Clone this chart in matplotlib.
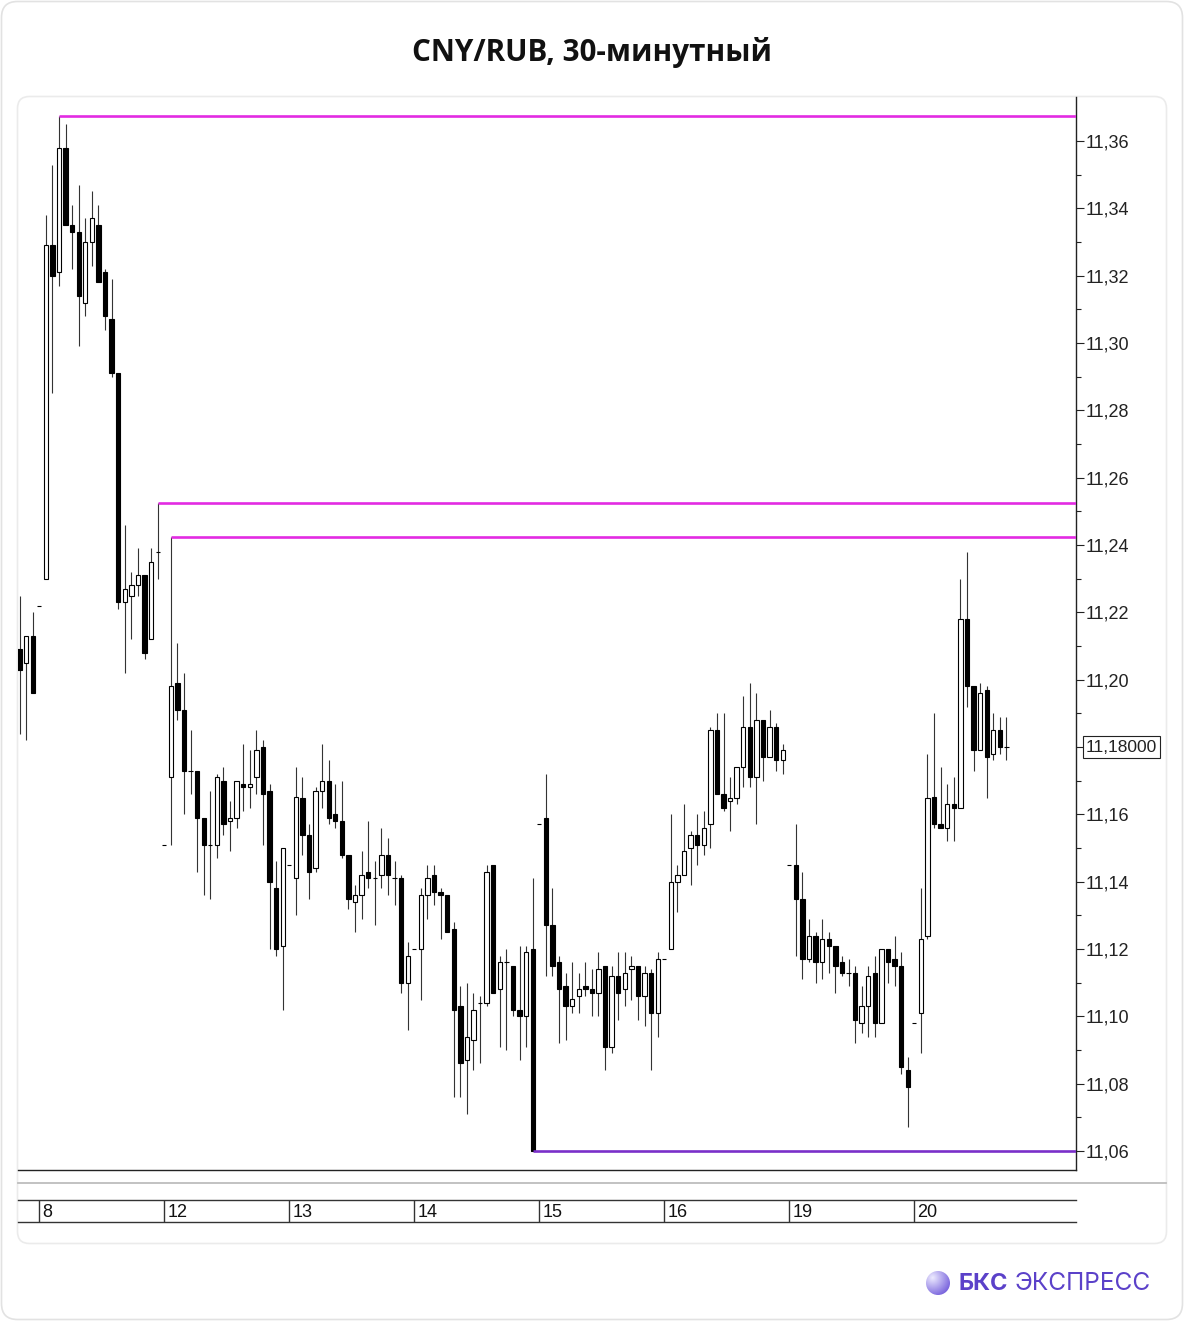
import numpy as np
import matplotlib.pyplot as plt
import matplotlib.transforms as mtransforms
from matplotlib.patches import FancyBboxPatch, Circle

plt.rcParams['font.family'] = ['Liberation Sans', 'DejaVu Sans']

# 30-min candles (bar index 0 = first visible bar)
opens = [11.209, 11.205, 11.213, 11.222, 11.230, 11.329, 11.321, 11.358, 11.335, 11.333,
         11.312, 11.330, 11.335, 11.321, 11.307, 11.291, 11.223, 11.225, 11.228, 11.231,
         11.212, 11.238, 11.151, 11.171, 11.199, 11.191, 11.173, 11.173, 11.159, 11.151,
         11.151, 11.170, 11.158, 11.159, 11.169, 11.168, 11.171, 11.180, 11.167, 11.138,
         11.121, 11.145, 11.141, 11.165, 11.154, 11.144, 11.167, 11.170, 11.160, 11.158,
         11.148, 11.134, 11.136, 11.143, 11.141, 11.142, 11.148, 11.141, 11.141, 11.110,
         11.120, 11.120, 11.136, 11.142, 11.137, 11.136, 11.126, 11.103, 11.087, 11.093,
         11.104, 11.104, 11.145, 11.108, 11.116, 11.115, 11.102, 11.100, 11.120, 11.157,
         11.159, 11.127, 11.116, 11.109, 11.103, 11.106, 11.109, 11.108, 11.107, 11.115,
         11.091, 11.112, 11.108, 11.114, 11.115, 11.106, 11.113, 11.101, 11.117, 11.120,
         11.140, 11.142, 11.150, 11.154, 11.151, 11.157, 11.185, 11.166, 11.164, 11.165,
         11.174, 11.186, 11.171, 11.188, 11.177, 11.186, 11.176, 11.145, 11.145, 11.135,
         11.117, 11.124, 11.116, 11.123, 11.121, 11.116, 11.113, 11.113, 11.098, 11.103,
         11.113, 11.098, 11.120, 11.117, 11.115, 11.084, 11.098, 11.101, 11.124, 11.165,
         11.157, 11.156, 11.163, 11.162, 11.218, 11.198, 11.179, 11.197, 11.178, 11.185,
         11.180]
highs = [11.225, 11.213, 11.220, 11.222, 11.338, 11.353, 11.3675, 11.365, 11.341, 11.347,
         11.337, 11.345, 11.341, 11.322, 11.319, 11.291, 11.246, 11.232, 11.239, 11.231,
         11.239, 11.2525, 11.151, 11.2425, 11.211, 11.202, 11.185, 11.173, 11.159, 11.167,
         11.172, 11.174, 11.164, 11.170, 11.181, 11.179, 11.185, 11.182, 11.169, 11.146,
         11.150, 11.145, 11.174, 11.171, 11.157, 11.168, 11.181, 11.176, 11.169, 11.170,
         11.148, 11.139, 11.149, 11.158, 11.146, 11.156, 11.153, 11.146, 11.142, 11.122,
         11.120, 11.138, 11.145, 11.145, 11.138, 11.136, 11.128, 11.109, 11.110, 11.107,
         11.106, 11.145, 11.145, 11.118, 11.120, 11.115, 11.121, 11.121, 11.141, 11.157,
         11.172, 11.138, 11.118, 11.113, 11.116, 11.113, 11.116, 11.114, 11.119, 11.115,
         11.115, 11.119, 11.119, 11.118, 11.115, 11.115, 11.114, 11.119, 11.117, 11.160,
         11.145, 11.163, 11.155, 11.160, 11.161, 11.186, 11.190, 11.190, 11.171, 11.174,
         11.195, 11.199, 11.196, 11.188, 11.191, 11.187, 11.181, 11.145, 11.157, 11.143,
         11.129, 11.125, 11.129, 11.125, 11.121, 11.118, 11.117, 11.115, 11.109, 11.115,
         11.118, 11.120, 11.120, 11.124, 11.119, 11.088, 11.098, 11.138, 11.178, 11.190,
         11.174, 11.169, 11.171, 11.230, 11.238, 11.198, 11.199, 11.198, 11.190, 11.189,
         11.189]
lows = [11.184, 11.182, 11.196, 11.222, 11.230, 11.285, 11.317, 11.335, 11.322, 11.299,
        11.308, 11.323, 11.318, 11.304, 11.290, 11.221, 11.202, 11.212, 11.225, 11.206,
        11.212, 11.230, 11.151, 11.151, 11.188, 11.160, 11.166, 11.143, 11.136, 11.135,
        11.147, 11.154, 11.149, 11.156, 11.161, 11.162, 11.166, 11.151, 11.120, 11.118,
        11.102, 11.145, 11.130, 11.148, 11.135, 11.143, 11.162, 11.157, 11.156, 11.147,
        11.132, 11.125, 11.129, 11.138, 11.127, 11.138, 11.136, 11.133, 11.107, 11.096,
        11.120, 11.105, 11.129, 11.133, 11.123, 11.125, 11.076, 11.076, 11.071, 11.084,
        11.086, 11.103, 11.107, 11.091, 11.090, 11.100, 11.087, 11.091, 11.060, 11.157,
        11.112, 11.112, 11.092, 11.093, 11.101, 11.101, 11.106, 11.100, 11.100, 11.084,
        11.089, 11.099, 11.103, 11.105, 11.099, 11.097, 11.084, 11.094, 11.117, 11.120,
        11.131, 11.142, 11.139, 11.145, 11.148, 11.150, 11.166, 11.161, 11.155, 11.163,
        11.168, 11.168, 11.157, 11.170, 11.177, 11.173, 11.172, 11.145, 11.118, 11.111,
        11.116, 11.110, 11.111, 11.113, 11.107, 11.112, 11.109, 11.092, 11.095, 11.094,
        11.094, 11.098, 11.110, 11.109, 11.083, 11.067, 11.098, 11.089, 11.123, 11.156,
        11.156, 11.152, 11.152, 11.162, 11.192, 11.173, 11.179, 11.165, 11.176, 11.178,
        11.176]
closes = [11.203, 11.213, 11.196, 11.222, 11.329, 11.320, 11.358, 11.335, 11.333, 11.314,
          11.330, 11.337, 11.318, 11.308, 11.291, 11.223, 11.227, 11.228, 11.231, 11.208,
          11.235, 11.238, 11.151, 11.198, 11.191, 11.173, 11.173, 11.159, 11.151, 11.151,
          11.171, 11.157, 11.159, 11.170, 11.168, 11.169, 11.179, 11.166, 11.140, 11.120,
          11.150, 11.145, 11.165, 11.154, 11.143, 11.167, 11.170, 11.159, 11.158, 11.148,
          11.135, 11.136, 11.142, 11.141, 11.141, 11.148, 11.142, 11.141, 11.110, 11.118,
          11.120, 11.136, 11.141, 11.137, 11.136, 11.125, 11.102, 11.086, 11.094, 11.102,
          11.104, 11.143, 11.107, 11.116, 11.116, 11.102, 11.100, 11.119, 11.060, 11.157,
          11.127, 11.115, 11.108, 11.103, 11.105, 11.108, 11.108, 11.107, 11.114, 11.091,
          11.112, 11.107, 11.113, 11.115, 11.106, 11.113, 11.101, 11.117, 11.117, 11.140,
          11.142, 11.149, 11.154, 11.151, 11.156, 11.185, 11.166, 11.162, 11.165, 11.174,
          11.186, 11.171, 11.188, 11.177, 11.186, 11.176, 11.179, 11.145, 11.135, 11.117,
          11.124, 11.116, 11.123, 11.121, 11.115, 11.113, 11.113, 11.099, 11.103, 11.112,
          11.098, 11.120, 11.116, 11.115, 11.085, 11.079, 11.098, 11.123, 11.165, 11.157,
          11.156, 11.163, 11.162, 11.218, 11.198, 11.179, 11.196, 11.177, 11.185, 11.180,
          11.180]

day_labels = ["8", "12", "13", "14", "15", "16", "19", "20"]
day_starts = [3, 22, 41, 60, 79, 98, 117, 136]

level_values = [11.3675, 11.2525, 11.2425, 11.06]
level_starts = [6, 21, 23, 78]
level_colors = ["#e22be2", "#e22be2", "#e22be2", "#7a2fc9"]

last_price = 11.18

W, H = 1185, 1322
fig = plt.figure(figsize=(W / 100, H / 100), dpi=100)

# background: card, inner panel, title, logo (pixel coordinates)
bg = fig.add_axes([0, 0, 1, 1])
bg.set_xlim(0, W)
bg.set_ylim(H, 0)
bg.axis('off')
bg.add_patch(FancyBboxPatch((1.5, 1.5), W - 4, H - 4, boxstyle="round,pad=0,rounding_size=16",
                            fc="white", ec="#e2e2e2", lw=1.2))
bg.add_patch(FancyBboxPatch((17.5, 96.5), 1149, 1147, boxstyle="round,pad=0,rounding_size=12",
                            fc="white", ec="#ebebeb", lw=1.2))
bg.plot([18, 1166], [1183, 1183], color="#bdbdbd", lw=1.3)
bg.text(592, 52, "CNY/RUB, 30-минутный", ha="center", va="center", fontsize=21.3,
        fontweight="bold", family=["Open Sans", "DejaVu Sans"], color="#111111")

# logo sphere with a simple radial gradient
gx, gy = np.meshgrid(np.linspace(-1, 1, 80), np.linspace(-1, 1, 80))
dist = np.clip(np.hypot(gx + 0.45, gy + 0.45) / 1.8, 0, 1)
light = np.array([0.93, 0.92, 1.0])
dark = np.array([0.42, 0.33, 0.85])
grad = light[None, None, :] * (1 - dist[..., None]) + dark[None, None, :] * dist[..., None]
img = bg.imshow(grad, extent=[926, 950, 1295, 1271], origin="upper", aspect="auto", zorder=3)
sphere = Circle((938, 1283), 12, transform=bg.transData)
img.set_clip_path(sphere)
bg.set_xlim(0, W)
bg.set_ylim(H, 0)
bg.text(958, 1284, "БКС", ha="left", va="center", fontsize=17, fontweight="bold",
        family=["Inter", "DejaVu Sans"], color="#5b41c9")
bg.text(1015, 1284, "ЭКСПРЕСС", ha="left", va="center", fontsize=17.6,
        family=["Inter", "DejaVu Sans"], color="#5b41c9")

# main price axes
x0, x1, y_top, y_bot = 18, 1075.5, 97, 1170
ax = fig.add_axes([x0 / W, 1 - y_bot / H, (x1 - x0) / W, (y_bot - y_top) / H])
px_per_unit = (1151 - 141) / 0.30
ax.set_ylim(11.36 - (y_bot - 141) / px_per_unit, 11.36 + (141 - y_top) / px_per_unit)
xmax = 160.5
ax.set_xlim(-0.23, xmax)
ax.set_facecolor("none")

o = np.array(opens)
hi = np.array(highs)
lo = np.array(lows)
c = np.array(closes)
x = np.arange(len(o))
up = c >= o

ax.vlines(x, lo, hi, color="#333333", lw=0.8, zorder=2)
ax.bar(x[up], (c - o)[up], bottom=o[up], width=0.66, facecolor="white",
       edgecolor="black", lw=0.8, zorder=3)
ax.bar(x[~up], (o - c)[~up], bottom=c[~up], width=0.66, facecolor="black",
       edgecolor="black", lw=0.8, zorder=3)

for val, start, col in zip(level_values, level_starts, level_colors):
    ax.hlines(val, start, xmax, color=col, lw=1.9, zorder=4)

major = np.round(np.arange(11.06, 11.37, 0.02), 2)
minor = np.round(np.arange(11.07, 11.37, 0.02), 2)
ax.yaxis.tick_right()
ax.set_yticks(major)
ax.set_yticks(minor, minor=True)
ax.set_yticklabels(["" if abs(v - last_price) < 1e-9 else f"{v:.2f}".replace(".", ",")
                    for v in major])
ax.tick_params(axis="y", which="major", length=5.5, width=0.8, colors="#222222",
               labelsize=13, pad=2)
ax.tick_params(axis="y", which="minor", length=3.5, width=0.8, colors="#222222")
ax.set_xticks([])
for side in ["left", "top"]:
    ax.spines[side].set_visible(False)
for side in ["right", "bottom"]:
    ax.spines[side].set_color("#222222")
    ax.spines[side].set_linewidth(1.0)

blend = mtransforms.blended_transform_factory(ax.transAxes, ax.transData)
ax.text(1.0098, last_price, "11,18000", transform=blend, ha="left", va="center",
        fontsize=12.5, color="#222222", clip_on=False, zorder=6,
        bbox=dict(boxstyle="square,pad=0.18", fc="white", ec="#222222", lw=0.8))

# date strip
ax2 = fig.add_axes([x0 / W, 1 - 1222 / H, (x1 - x0) / W, 22 / H])
ax2.set_xlim(-0.23, xmax)
ax2.set_ylim(0, 1)
ax2.set_xticks([])
ax2.set_yticks([])
ax2.set_facecolor("none")
for side in ["left", "right"]:
    ax2.spines[side].set_visible(False)
for side in ["top", "bottom"]:
    ax2.spines[side].set_color("#333333")
    ax2.spines[side].set_linewidth(1.0)
ax2.vlines(day_starts, 0, 1, color="#333333", lw=1.0)
for d, lab in zip(day_starts, day_labels):
    ax2.text(d + 0.45, 0.42, lab, ha="left", va="center", fontsize=13, color="#111111")

fig.savefig("out.png", dpi=100)
